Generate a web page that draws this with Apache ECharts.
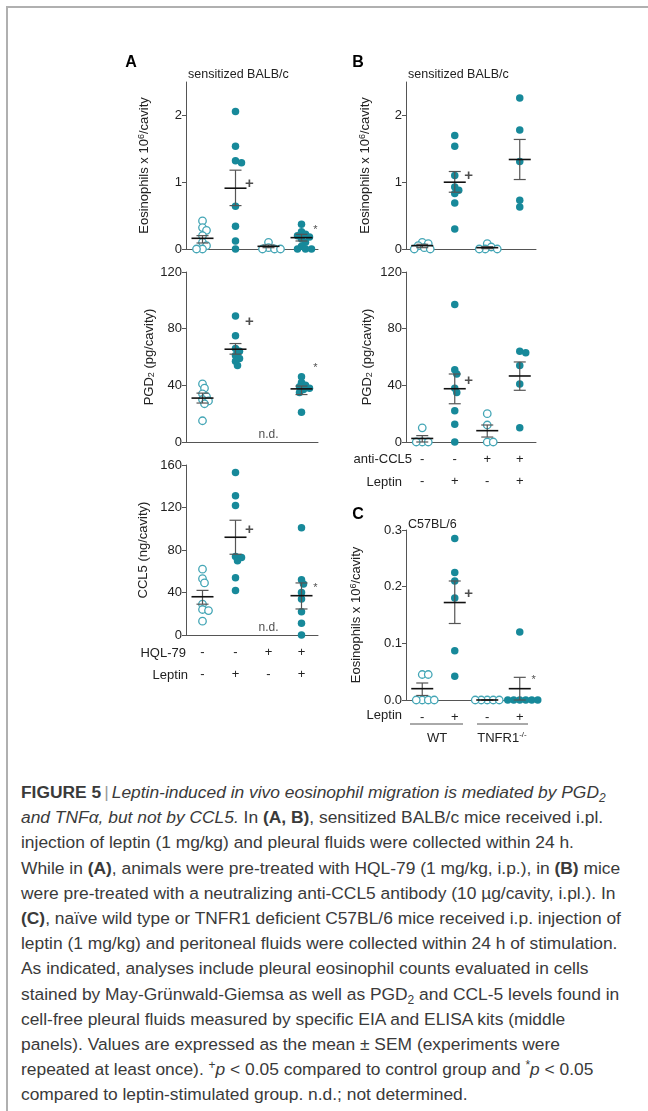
<!DOCTYPE html>
<html>
<head>
<meta charset="utf-8">
<script src="https://cdn.jsdelivr.net/npm/echarts@6/dist/echarts.min.js"></script>
<style>
  html, body { margin: 0; padding: 0; width: 648px; height: 1111px; overflow: hidden; background: #fff; }
  .frame { position: absolute; left: 6px; top: 6px; width: 700px; height: 1200px; border-left: 2px solid #b0b0b0; border-top: 2px solid #b0b0b0; }
  #chart { position: absolute; left: 0; top: 0; width: 648px; height: 780px; }
  .caption { position: absolute; left: 21px; top: 780px; font-family: "Liberation Sans", Arial, sans-serif; font-size: 17.4px; line-height: 25.2px; color: #3a3a3a; white-space: nowrap; }
  .caption sub, .caption sup { font-size: 12px; line-height: 0; position: relative; vertical-align: baseline; }
  .caption sub { top: 4px; }
  .caption sup { top: -6px; }
  .caption .sep { color: #999; padding: 0 3px; }
</style>
</head>
<body>
<div class="frame"></div>
<div id="chart"></div>
<div class="caption">
  <b>FIGURE 5</b><span class="sep">|</span><i>Leptin-induced in vivo eosinophil migration is mediated by PGD<sub>2</sub></i><br>
  <i>and TNFα, but not by CCL5.</i> In <b>(A, B)</b>, sensitized BALB/c mice received i.pl.<br>
  injection of leptin (1 mg/kg) and pleural fluids were collected within 24 h.<br>
  While in <b>(A)</b>, animals were pre-treated with HQL-79 (1 mg/kg, i.p.), in <b>(B)</b> mice<br>
  were pre-treated with a neutralizing anti-CCL5 antibody (10 µg/cavity, i.pl.). In<br>
  <b>(C)</b>, naïve wild type or TNFR1 deficient C57BL/6 mice received i.p. injection of<br>
  leptin (1 mg/kg) and peritoneal fluids were collected within 24 h of stimulation.<br>
  As indicated, analyses include pleural eosinophil counts evaluated in cells<br>
  stained by May-Grünwald-Giemsa as well as PGD<sub>2</sub> and CCL-5 levels found in<br>
  cell-free pleural fluids measured by specific EIA and ELISA kits (middle<br>
  panels). Values are expressed as the mean ± SEM (experiments were<br>
  repeated at least once). <sup>+</sup><i>p</i> &lt; 0.05 compared to control group and <sup>*</sup><i>p</i> &lt; 0.05<br>
  compared to leptin-stimulated group. n.d.; not determined.
</div>
<script>
  // 4 groups per panel
  const groupIdx = ['0', '1', '2', '3'];

  // A: HQL-79 pre-treatment
  const hqlRow = ['-', '-', '+', '+'];
  const leptinRowA = ['-', '+', '-', '+'];
  const eosA = [
    [0.42, 0.32, 0.28, 0.2, 0.1, 0.05, 0, 0],
    [2.06, 1.54, 1.32, 1.29, 0.64, 0.34, 0.12, 0],
    [0.1, 0.02, 0, 0, 0],
    [0.37, 0.26, 0.22, 0.2, 0.18, 0.15, 0.1, 0.04, 0, 0, 0]
  ];
  const eosAMean = [0.16, 0.91, 0.04, 0.17];
  const eosASem = [[0.09, 0.2], [0.65, 1.18], [0.02, 0.06], [0.12, 0.22]];
  const eosANotes = [[1, 0.98, '+'], [3, 0.28, '*']];

  const pgdA = [
    [41, 38, 34, 32, 30, 29, 27, 15],
    [89, 75, 66, 64, 61, 59, 57, 54],
    [],
    [46, 42, 40, 39, 38, 37, 35, 21]
  ];
  const pgdAMean = [31, 65.5, null, 37.5];
  const pgdASem = [[27.5, 34.5], [62, 69.5], null, [33.5, 39.5]];
  const pgdANotes = [[1, 85, '+'], [3, 52, '*'], [2, 5, 'n.d.']];

  const cclA = [
    [62, 53, 49, 29, 24, 23, 13],
    [153, 131, 122, 74, 73, 70, 54, 42],
    [],
    [101, 52, 48, 40, 34, 22, 11, 0]
  ];
  const cclAMean = [36, 92, null, 37];
  const cclASem = [[29, 42], [76, 108], null, [24.5, 49]];
  const cclANotes = [[1, 99, '+'], [3, 44, '*'], [2, 7, 'n.d.']];

  // B: anti-CCL5 pre-treatment
  const antiCclRow = ['-', '-', '+', '+'];
  const leptinRowB = ['-', '+', '-', '+'];
  const eosB = [
    [0.1, 0.08, 0.05, 0.02, 0, 0],
    [1.7, 1.54, 1.1, 0.93, 0.88, 0.83, 0.69, 0.3],
    [0.08, 0.03, 0, 0, 0],
    [2.26, 1.78, 1.31, 0.73, 0.63]
  ];
  const eosBMean = [0.05, 1.0, 0.02, 1.34];
  const eosBSem = [[0.02, 0.07], [0.85, 1.16], [0.005, 0.035], [1.04, 1.64]];
  const eosBNotes = [[1, 1.1, '+']];

  const pgdB = [
    [10, 0, 0, 0],
    [97, 51, 48, 38, 35, 22, 12.5, 0],
    [20, 12, 0, 0],
    [64, 63, 54, 41, 10]
  ];
  const pgdBMean = [2.5, 37.6, 8, 46.6];
  const pgdBSem = [[0, 4.5], [27, 48], [3.5, 12], [36.5, 56.5]];
  const pgdBNotes = [[1, 43, '+']];

  // C: C57BL/6, WT vs TNFR1-/-
  const leptinRowC = ['-', '+', '-', '+'];
  const eosC = [
    [0.045, 0.045, 0, 0, 0, 0],
    [0.285, 0.225, 0.21, 0.18, 0.087, 0.042],
    [0, 0, 0, 0, 0],
    [0.12, 0, 0, 0, 0, 0, 0]
  ];
  const eosCMean = [0.02, 0.172, 0, 0.02];
  const eosCSem = [[0.008, 0.03], [0.135, 0.21], [0, 0], [0, 0.04]];
  const eosCNotes = [[1, 0.187, '+'], [3, 0.035, '*']];

  const ticks25 = [0, 1, 2];
  const ticks120 = [0, 40, 80, 120];
  const ticks160 = [0, 40, 80, 120, 160];
  const ticks03 = [0, 0.1, 0.2, 0.3];

  const FONT = '"Liberation Sans", Arial, sans-serif';
  const TEAL = '#17899a';
  const TEAL_OPEN = '#44a6b6';

  const eosName = 'Eosinophils x 10{sup|6}/cavity';
  const pgdName = 'PGD{sub|2} (pg/cavity)';

  const panels = [
    { left: 186, top: 82, width: 132, height: 167, max: 2.5, ticks: ticks25, name: eosName, gap: 34,
      values: eosA, mean: eosAMean, sem: eosASem, notes: eosANotes, open: leptinRowA, rows: null },
    { left: 186, top: 272, width: 132, height: 170, max: 120, ticks: ticks120, name: pgdName, gap: 30,
      values: pgdA, mean: pgdAMean, sem: pgdASem, notes: pgdANotes, open: leptinRowA, rows: null },
    { left: 186, top: 465, width: 132, height: 170, max: 160, ticks: ticks160, name: 'CCL5 (ng/cavity)', gap: 36,
      values: cclA, mean: cclAMean, sem: cclASem, notes: cclANotes, open: leptinRowA, rows: [hqlRow, leptinRowA] },
    { left: 406, top: 82, width: 130, height: 167, max: 2.5, ticks: ticks25, name: eosName, gap: 33,
      values: eosB, mean: eosBMean, sem: eosBSem, notes: eosBNotes, open: leptinRowB, rows: null },
    { left: 406, top: 272, width: 130, height: 170, max: 120, ticks: ticks120, name: pgdName, gap: 32,
      values: pgdB, mean: pgdBMean, sem: pgdBSem, notes: pgdBNotes, open: leptinRowB, rows: [antiCclRow, leptinRowB] },
    { left: 406, top: 530, width: 130, height: 170, max: 0.3, ticks: ticks03, name: eosName, gap: 42, fixed: 1,
      values: eosC, mean: eosCMean, sem: eosCSem, notes: eosCNotes, open: leptinRowC, rows: [leptinRowC] }
  ];

  /**
   * 简单的蜂群排布，返回每个点的水平像素偏移
   */
  function swarm(vals, pxPerUnit) {
    const placed = [];
    return vals.map(v => {
      const y = v * pxPerUnit;
      for (let k = 0; k < 40; k++) {
        const dx = (k % 2 ? 1 : -1) * Math.ceil(k / 2) * 2;
        if (placed.every(p => Math.hypot(p[0] - dx, p[1] - y) >= 4.6)) {
          placed.push([dx, y]);
          return dx;
        }
      }
      return 0;
    });
  }

  function renderSem(params, api) {
    const g = api.value(0);
    const c = api.coord([g, api.value(1)]);
    const lo = api.coord([g, api.value(2)]);
    const hi = api.coord([g, api.value(3)]);
    const x = c[0];
    const thin = { stroke: '#555', lineWidth: 1.2 };
    return {
      type: 'group',
      children: [
        { type: 'line', shape: { x1: x, y1: hi[1], x2: x, y2: lo[1] }, style: thin },
        { type: 'line', shape: { x1: x - 6, y1: hi[1], x2: x + 6, y2: hi[1] }, style: thin },
        { type: 'line', shape: { x1: x - 6, y1: lo[1], x2: x + 6, y2: lo[1] }, style: thin },
        { type: 'line', shape: { x1: x - 11, y1: c[1], x2: x + 11, y2: c[1] }, style: { stroke: '#111', lineWidth: 1.6 } }
      ]
    };
  }

  const option = { animation: false, grid: [], xAxis: [], yAxis: [], series: [], graphic: [] };

  panels.forEach((p, i) => {
    option.grid.push({ left: p.left, top: p.top, width: p.width, height: p.height });
    option.xAxis.push({
      gridIndex: i, type: 'category', data: groupIdx, boundaryGap: true,
      axisLine: { lineStyle: { color: '#555', width: 1 } },
      axisTick: { show: false },
      axisLabel: {
        show: !!p.rows, interval: 0, margin: 6, lineHeight: 22,
        fontFamily: FONT, fontSize: 13, color: '#222',
        formatter: (v, idx) => p.rows ? p.rows.map(r => r[idx]).join('\n') : ''
      }
    });
    option.yAxis.push({
      gridIndex: i, type: 'value', min: 0, max: p.max,
      axisLine: { show: true, lineStyle: { color: '#555', width: 1 } },
      axisTick: { show: true, length: 4, customValues: p.ticks, lineStyle: { color: '#555' } },
      axisLabel: {
        customValues: p.ticks, margin: 4, fontFamily: FONT, fontSize: 13, color: '#222',
        formatter: v => p.fixed ? v.toFixed(p.fixed) : String(v)
      },
      splitLine: { show: false },
      name: p.name, nameLocation: 'middle', nameRotate: 90, nameGap: p.gap,
      nameTextStyle: {
        fontFamily: FONT, fontSize: 13, color: '#222',
        rich: {
          sup: { fontFamily: FONT, fontSize: 9, color: '#222', verticalAlign: 'top', padding: [0, 0, 6, 0] },
          sub: { fontFamily: FONT, fontSize: 9, color: '#222', verticalAlign: 'bottom', padding: [4, 0, 0, 0] }
        }
      }
    });

    const pxPerUnit = p.height / p.max;
    const openData = [];
    const fillData = [];
    p.values.forEach((vals, g) => {
      const offs = swarm(vals, pxPerUnit);
      vals.forEach((v, k) => {
        const item = { value: [g, v], symbolOffset: [offs[k], 0] };
        (p.open[g] === '-' ? openData : fillData).push(item);
      });
    });
    option.series.push({
      type: 'scatter', xAxisIndex: i, yAxisIndex: i, data: openData, symbol: 'circle', symbolSize: 7.5,
      itemStyle: { color: '#fff', borderColor: TEAL_OPEN, borderWidth: 1.3, opacity: 1 }, z: 2, silent: true
    });
    option.series.push({
      type: 'scatter', xAxisIndex: i, yAxisIndex: i, data: fillData, symbol: 'circle', symbolSize: 7.5,
      itemStyle: { color: TEAL, opacity: 1 }, z: 3, silent: true
    });

    const semData = [];
    p.mean.forEach((m, g) => {
      if (m !== null) semData.push([g, m, p.sem[g][0], p.sem[g][1]]);
    });
    option.series.push({
      type: 'custom', xAxisIndex: i, yAxisIndex: i, data: semData, renderItem: renderSem,
      encode: { x: 0, y: [1, 2, 3] }, z: 5, silent: true
    });

    option.series.push({
      type: 'scatter', xAxisIndex: i, yAxisIndex: i, symbolSize: 1, silent: true, z: 6,
      itemStyle: { color: 'rgba(0,0,0,0)' },
      data: p.notes.map(n => ({
        value: [n[0], n[1]],
        label: {
          show: true, position: 'inside', formatter: n[2],
          offset: [n[2] === 'n.d.' ? 0 : 14, 0],
          fontFamily: FONT, fontSize: n[2] === '*' ? 11 : (n[2] === 'n.d.' ? 12 : 15),
          fontWeight: n[2] === '+' ? 'bold' : 'normal', color: '#222'
        }
      }))
    });
  });

  function txt(text, x, y, opts) {
    const s = Object.assign({
      text: text, x: x, y: y, fontFamily: FONT, fontSize: 13, fill: '#222',
      align: 'left', verticalAlign: 'middle', textAlign: 'left', textVerticalAlign: 'middle'
    }, opts || {});
    if (s.align) s.textAlign = s.align;
    return { type: 'text', silent: true, style: s };
  }

  option.graphic = [
    txt('A', 131, 63, { fontSize: 16, fontWeight: 'bold', align: 'center', fill: '#000' }),
    txt('B', 358, 63, { fontSize: 16, fontWeight: 'bold', align: 'center', fill: '#000' }),
    txt('C', 358, 515, { fontSize: 16, fontWeight: 'bold', align: 'center', fill: '#000' }),
    txt('sensitized BALB/c', 188, 75, { fontSize: 12.5 }),
    txt('sensitized BALB/c', 408, 75, { fontSize: 12.5 }),
    txt('C57BL/6', 408, 525, { fontSize: 12.5 }),
    txt('HQL-79', 186, 653, { align: 'right' }),
    txt('Leptin', 188, 675, { align: 'right' }),
    txt('anti-CCL5', 412, 459, { align: 'right' }),
    txt('Leptin', 402, 482, { align: 'right' }),
    txt('Leptin', 402, 715, { align: 'right' }),
    { type: 'line', silent: true, shape: { x1: 410, y1: 724, x2: 463, y2: 724 }, style: { stroke: '#555', lineWidth: 1 } },
    { type: 'line', silent: true, shape: { x1: 477, y1: 724, x2: 528, y2: 724 }, style: { stroke: '#555', lineWidth: 1 } },
    txt('WT', 437, 738, { align: 'center' }),
    txt('TNFR1{sup|-/-}', 502, 738, {
      align: 'center',
      rich: { sup: { fontFamily: FONT, fontSize: 8, fill: '#222', verticalAlign: 'top', padding: [0, 0, 6, 0] } }
    })
  ];

  const myChart = echarts.init(document.getElementById('chart'));
  myChart.setOption(option);
</script>
</body>
</html>
